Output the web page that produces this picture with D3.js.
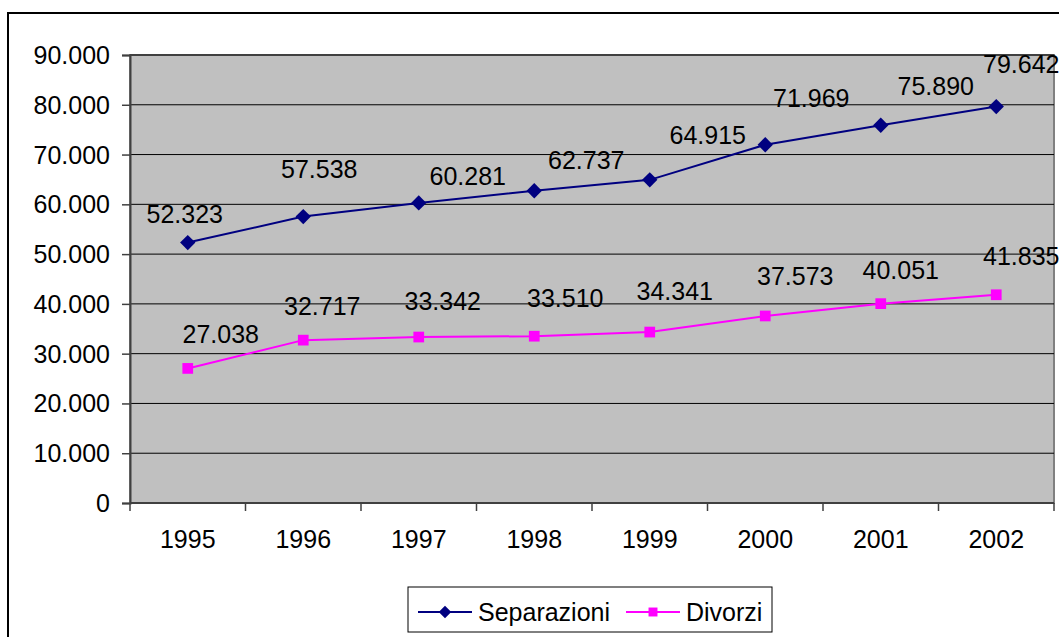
<!DOCTYPE html>
<html>
<head>
<meta charset="utf-8">
<script src="https://cdn.jsdelivr.net/npm/d3@7"></script>
<style>
  body { margin: 0; background: #fff; }
  svg text { font-family: "Liberation Sans", Arial, sans-serif; fill: #000; }
</style>
</head>
<body>
<svg id="chart" width="1059" height="637"></svg>
<script>
const years = ["1995", "1996", "1997", "1998", "1999", "2000", "2001", "2002"];
const separazioni = [52323, 57538, 60281, 62737, 64915, 71969, 75890, 79642];
const divorzi = [27038, 32717, 33342, 33510, 34341, 37573, 40051, 41835];
const yTicks = [0, 10000, 20000, 30000, 40000, 50000, 60000, 70000, 80000, 90000];

// label placement (offset from the marker, px) as Excel left them
const sepLabelDx = [-3, 16, 49, 52, 58, 46, 55, 25];
const sepLabelDy = [-20, -39, -18, -22, -36, -38, -30, -34];
const divLabelDx = [33, 19, 24, 31, 25, 30, 20, 25];
const divLabelDy = [-25, -25, -27, -29, -32, -31, -25, -30];

const it = d3.formatLocale({ decimal: ",", thousands: ".", grouping: [3], currency: ["", "€"] });
const fmt = it.format(",d");

const svg = d3.select("#chart");
const plotLeft = 130, plotRight = 1054, plotTop = 55, plotBottom = 503;
const fontSize = "25px";

// outer chart border
svg.append("rect")
    .attr("x", 8).attr("y", 13)
    .attr("width", 1070).attr("height", 640)
    .attr("fill", "#fff")
    .attr("stroke", "#000")
    .attr("stroke-width", 2);

const x = d3.scaleBand().domain(years).range([plotLeft, plotRight]);
const y = d3.scaleLinear().domain([0, 90000]).range([plotBottom, plotTop]);

// plot area
svg.append("rect")
    .attr("x", plotLeft).attr("y", plotTop)
    .attr("width", plotRight - plotLeft).attr("height", plotBottom - plotTop)
    .attr("fill", "#c0c0c0")
    .attr("stroke", "#808080")
    .attr("stroke-width", 2);

// gridlines
svg.append("g")
    .selectAll("line")
    .data(yTicks.filter(d => d > 0))
    .join("line")
    .attr("x1", plotLeft).attr("x2", plotRight)
    .attr("y1", d => y(d)).attr("y2", d => y(d))
    .attr("stroke", "#000")
    .attr("stroke-width", 1);

// Y axis
const yAxis = svg.append("g")
    .attr("transform", `translate(${plotLeft},0)`)
    .call(d3.axisLeft(y).tickValues(yTicks).tickFormat(fmt).tickSize(8).tickPadding(12));
yAxis.selectAll("text").style("font-size", fontSize).attr("dy", "0.34em");
yAxis.select(".domain").attr("stroke", "#404040").attr("stroke-width", 2);
yAxis.selectAll(".tick line").attr("stroke", "#404040").attr("stroke-width", 1.5);

// X axis, ticks sit on the category boundaries
const xAxisG = svg.append("g").attr("transform", `translate(0,${plotBottom})`);
xAxisG.append("line")
    .attr("x1", plotLeft).attr("x2", plotRight)
    .attr("stroke", "#404040").attr("stroke-width", 2);
xAxisG.selectAll(".xtick")
    .data(years.concat(["end"]))
    .join("line")
    .attr("x1", (d, i) => plotLeft + i * x.step())
    .attr("x2", (d, i) => plotLeft + i * x.step())
    .attr("y1", 0).attr("y2", 8)
    .attr("stroke", "#404040").attr("stroke-width", 1.5);
xAxisG.selectAll(".xlabel")
    .data(years)
    .join("text")
    .attr("x", d => x(d) + x.bandwidth() / 2)
    .attr("y", 45)
    .attr("text-anchor", "middle")
    .style("font-size", fontSize)
    .text(d => d);

const cx = (d, i) => x(years[i]) + x.bandwidth() / 2;

function drawSeries(values, color, shape, size, dxs, dys) {
    const line = d3.line().x((d, i) => cx(d, i)).y(d => y(d));
    svg.append("path")
        .datum(values)
        .attr("d", line)
        .attr("fill", "none")
        .attr("stroke", color)
        .attr("stroke-width", 2);
    svg.append("g")
        .selectAll("path")
        .data(values)
        .join("path")
        .attr("transform", (d, i) => `translate(${cx(d, i)},${y(d)})`)
        .attr("d", d3.symbol().type(shape).size(size))
        .attr("fill", color);
    svg.append("g")
        .selectAll("text")
        .data(values)
        .join("text")
        .attr("x", (d, i) => cx(d, i) + dxs[i])
        .attr("y", (d, i) => y(d) + dys[i])
        .attr("text-anchor", "middle")
        .style("font-size", fontSize)
        .text(d => fmt(d));
}

drawSeries(separazioni, "#000080", d3.symbolDiamond2, 150, sepLabelDx, sepLabelDy);
drawSeries(divorzi, "#ff00ff", d3.symbolSquare, 115, divLabelDx, divLabelDy);

// legend
const legend = svg.append("g").attr("transform", "translate(408,587)");
legend.append("rect")
    .attr("width", 364).attr("height", 45)
    .attr("fill", "#fff")
    .attr("stroke", "#000")
    .attr("stroke-width", 1);
const legendItems = [
    { name: "Separazioni", color: "#000080", shape: d3.symbolDiamond2, size: 100, x: 10 },
    { name: "Divorzi", color: "#ff00ff", shape: d3.symbolSquare, size: 80, x: 218 }
];
const li = legend.selectAll(".item")
    .data(legendItems)
    .join("g")
    .attr("transform", d => `translate(${d.x},25)`);
li.append("line")
    .attr("x1", 0).attr("x2", 54)
    .attr("stroke", d => d.color).attr("stroke-width", 2);
li.append("path")
    .attr("transform", "translate(27,0)")
    .attr("d", d => d3.symbol().type(d.shape).size(d.size)())
    .attr("fill", d => d.color);
li.append("text")
    .attr("x", 60)
    .attr("y", 0)
    .attr("dy", "0.35em")
    .style("font-size", fontSize)
    .text(d => d.name);
</script>
</body>
</html>
